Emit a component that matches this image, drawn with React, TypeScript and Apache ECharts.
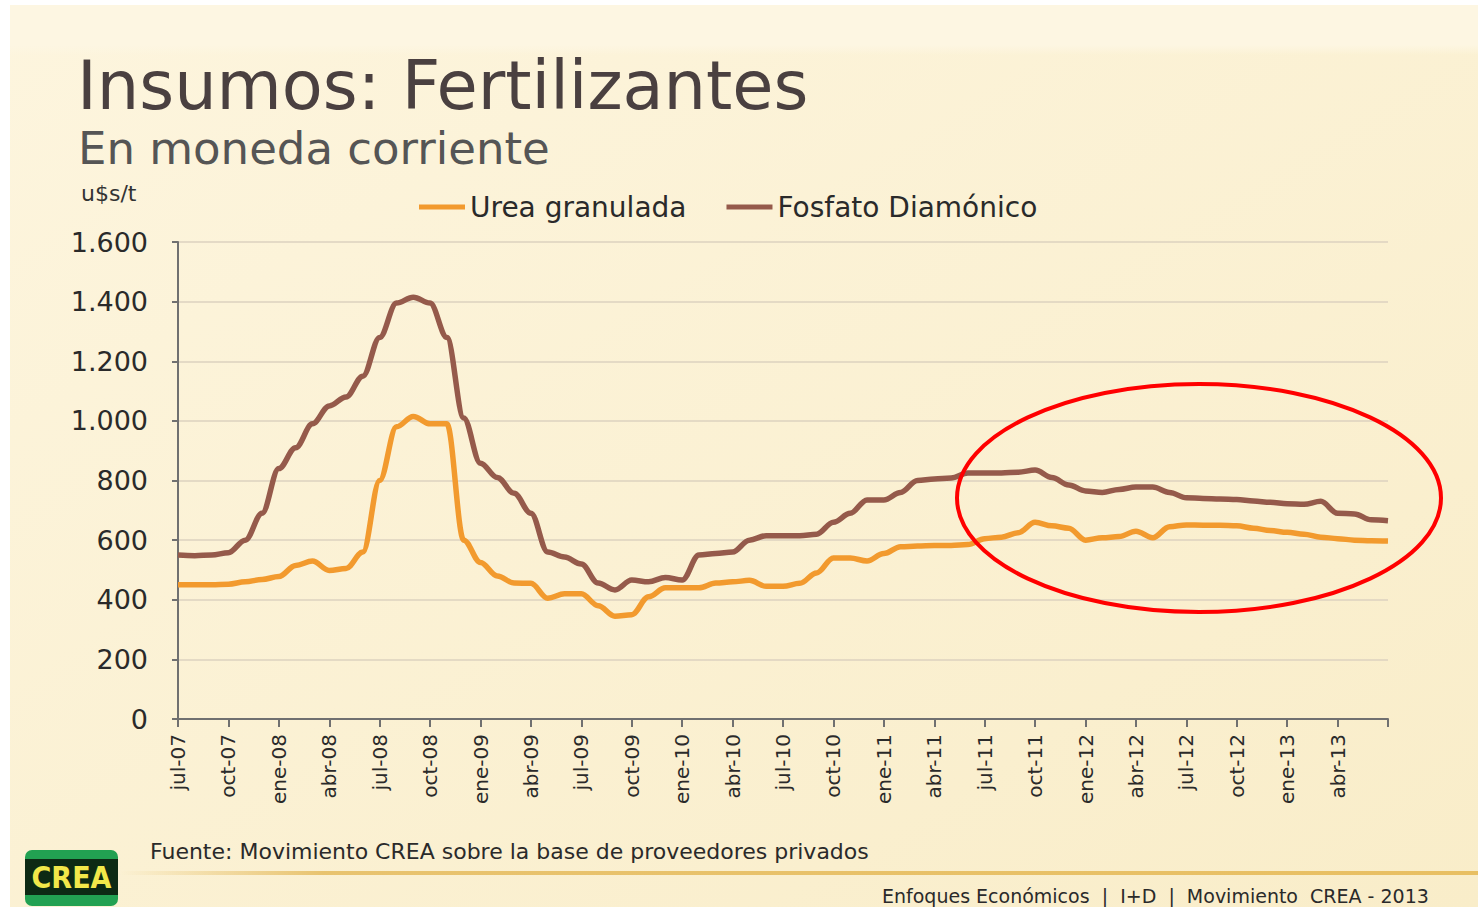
import React, { useEffect, useRef } from "react";
import * as echarts from "echarts";

const categories = [
  "jul-07","ago-07","sep-07","oct-07","nov-07","dic-07",
  "ene-08","feb-08","mar-08","abr-08","may-08","jun-08","jul-08","ago-08","sep-08","oct-08","nov-08","dic-08",
  "ene-09","feb-09","mar-09","abr-09","may-09","jun-09","jul-09","ago-09","sep-09","oct-09","nov-09","dic-09",
  "ene-10","feb-10","mar-10","abr-10","may-10","jun-10","jul-10","ago-10","sep-10","oct-10","nov-10","dic-10",
  "ene-11","feb-11","mar-11","abr-11","may-11","jun-11","jul-11","ago-11","sep-11","oct-11","nov-11","dic-11",
  "ene-12","feb-12","mar-12","abr-12","may-12","jun-12","jul-12","ago-12","sep-12","oct-12","nov-12","dic-12",
  "ene-13","feb-13","mar-13","abr-13","may-13","jun-13","jul-13",
];

const urea = [
  450, 450, 450, 452, 460, 468,
  478, 515, 530, 498, 505, 560, 800, 980, 1015, 990, 990, 600,
  525, 480, 456, 455, 405, 420, 420, 380, 345, 350, 410, 440,
  440, 440, 456, 460, 465, 445, 445, 455, 490, 540, 540, 530,
  555, 578, 580, 582, 582, 585, 605, 610, 625, 660, 648, 640,
  600, 608, 612, 630, 608, 645, 651, 650, 650, 648, 640, 632,
  626, 620, 610, 605, 600, 598, 597,
];

const fosfato = [
  550, 548, 550, 558, 600, 690,
  840, 910, 990, 1050, 1080, 1150, 1280, 1395, 1415, 1395, 1280, 1010,
  858, 810, 757, 690, 560, 543, 520, 456, 433, 466, 460, 475,
  466, 550, 555, 560, 600, 615, 615, 615, 620, 660, 690, 735,
  735, 760, 800, 805, 808, 825, 825, 825, 828, 835, 810, 785,
  765, 760, 770, 778, 778, 760, 742, 740, 738, 736, 731, 727,
  722, 720, 730, 690, 688, 668, 665,
];

const yTicks = { min: 0, max: 1600, interval: 200 };
const seriesNames = ["Urea granulada", "Fosfato Diamónico"];

const FONT = "'DejaVu Sans', Lato, sans-serif";

function fmt(v: number): string {
  if (v >= 1000) {
    const t = Math.floor(v / 1000);
    const r = String(v % 1000).padStart(3, "0");
    return `${t}.${r}`;
  }
  return String(v);
}

export default function App() {
  const ref = useRef<HTMLDivElement>(null);
  useEffect(() => {
    document.body.style.margin = "0";
    const chart = echarts.init(ref.current!, null, { renderer: "svg" });
    const lastIdx = categories.length - 1;
    chart.setOption({
      animation: false,
      backgroundColor: {
        type: "linear", x: 0, y: 0, x2: 1, y2: 1,
        colorStops: [
          { offset: 0, color: "#fdf5de" },
          { offset: 1, color: "#f9edc9" },
        ],
      },
      legend: {
        data: seriesNames,
        left: 414,
        top: 188,
        icon: "rect",
        itemWidth: 46,
        itemHeight: 5,
        itemGap: 40,
        textStyle: { fontSize: 28, fontFamily: FONT, color: "#2a2a2a" },
      },
      grid: { left: 178, right: 90, top: 242, bottom: 188, containLabel: false },
      xAxis: {
        type: "category",
        boundaryGap: false,
        data: categories,
        axisLine: { lineStyle: { color: "#707070", width: 2 } },
        axisTick: { show: true, interval: 2, length: 8, lineStyle: { color: "#707070", width: 2 } },
        axisLabel: {
          interval: 2,
          rotate: 90,
          fontSize: 20,
          fontFamily: FONT,
          color: "#2a2a2a",
          margin: 15,
          formatter: (v: string, i: number) => (i === lastIdx ? "" : v),
        },
        splitLine: { show: false },
      },
      yAxis: {
        type: "value",
        min: yTicks.min,
        max: yTicks.max,
        interval: yTicks.interval,
        axisLine: { show: true, lineStyle: { color: "#707070", width: 2 } },
        axisTick: { show: true, length: 6, lineStyle: { color: "#707070", width: 2 } },
        axisLabel: { fontSize: 27, fontFamily: FONT, color: "#2a2a2a", margin: 30, formatter: (v: number) => fmt(v) },
        splitLine: { lineStyle: { color: "#dcd2bf", width: 1.5 } },
      },
      series: [
        {
          name: seriesNames[0],
          type: "line",
          data: urea,
          showSymbol: false,
          smooth: 0.35,
          smoothMonotone: "x",
          lineStyle: { color: "#f29a2e", width: 5.5 },
          itemStyle: { color: "#f29a2e" },
          z: 3,
        },
        {
          name: seriesNames[1],
          type: "line",
          data: fosfato,
          showSymbol: false,
          smooth: 0.35,
          smoothMonotone: "x",
          lineStyle: { color: "#955a4b", width: 5.5 },
          itemStyle: { color: "#955a4b" },
          z: 2,
        },
      ],
      graphic: [
        { type: "rect", shape: { x: 0, y: 0, width: 1478, height: 5 }, style: { fill: "#ffffff" }, silent: true },
        { type: "rect", shape: { x: 0, y: 0, width: 10, height: 907 }, style: { fill: "#ffffff" }, silent: true },
        {
          type: "rect", shape: { x: 10, y: 5, width: 1468, height: 50 }, silent: true,
          style: {
            fill: {
              type: "linear", x: 0, y: 0, x2: 0, y2: 1,
              colorStops: [
                { offset: 0, color: "#fdf6e2" },
                { offset: 0.8, color: "#fdf6e2" },
                { offset: 1, color: "rgba(253,246,226,0)" },
              ],
            },
          },
        },
        {
          type: "text", x: 77, y: 86,
          style: { text: "Insumos: Fertilizantes", fontSize: 67, fontFamily: FONT, fill: "#4a4040", verticalAlign: "middle" },
        },
        {
          type: "text", x: 78, y: 148,
          style: { text: "En moneda corriente", fontSize: 45, fontFamily: FONT, fill: "#555555", verticalAlign: "middle" },
        },
        {
          type: "text", x: 81, y: 193,
          style: { text: "u$s/t", fontSize: 22, fontFamily: FONT, fill: "#333333", verticalAlign: "middle" },
        },
        {
          type: "ellipse",
          shape: { cx: 1199, cy: 498, rx: 242, ry: 114 },
          style: { fill: "none", stroke: "#ff0000", lineWidth: 4 },
          z: 10,
        },
        {
          type: "text", x: 150, y: 851,
          style: { text: "Fuente: Movimiento CREA sobre la base de proveedores privados", fontSize: 22, fontFamily: FONT, fill: "#2a2a2a", verticalAlign: "middle" },
        },
        {
          type: "rect", shape: { x: 120, y: 871, width: 1358, height: 4 },
          style: {
            fill: {
              type: "linear", x: 0, y: 0, x2: 1, y2: 0,
              colorStops: [
                { offset: 0, color: "rgba(230,190,100,0)" },
                { offset: 0.15, color: "rgba(230,190,100,0.9)" },
                { offset: 1, color: "#e8bf62" },
              ],
            },
          },
        },
        {
          type: "text", x: 882, y: 896,
          style: { text: "Enfoques Económicos  |  I+D  |  Movimiento  CREA - 2013", fontSize: 19, fontFamily: FONT, fill: "#2a2a2a", verticalAlign: "middle" },
        },
        { type: "rect", shape: { x: 25, y: 850, width: 93, height: 56, r: 7 }, style: { fill: "#22a152" } },
        { type: "rect", shape: { x: 25, y: 859, width: 93, height: 36 }, style: { fill: "#0d2a14" } },
        {
          type: "text", x: 71.5, y: 877,
          style: { text: "CREA", fontSize: 30, fontWeight: "bold", fontFamily: "'DejaVu Sans Condensed', 'DejaVu Sans', sans-serif", fill: "#f2e84a", align: "center", verticalAlign: "middle" },
        },
      ],
    });
    return () => chart.dispose();
  }, []);
  return <div ref={ref} style={{ position: "absolute", left: 0, top: 0, width: 1478, height: 907 }} />;
}
